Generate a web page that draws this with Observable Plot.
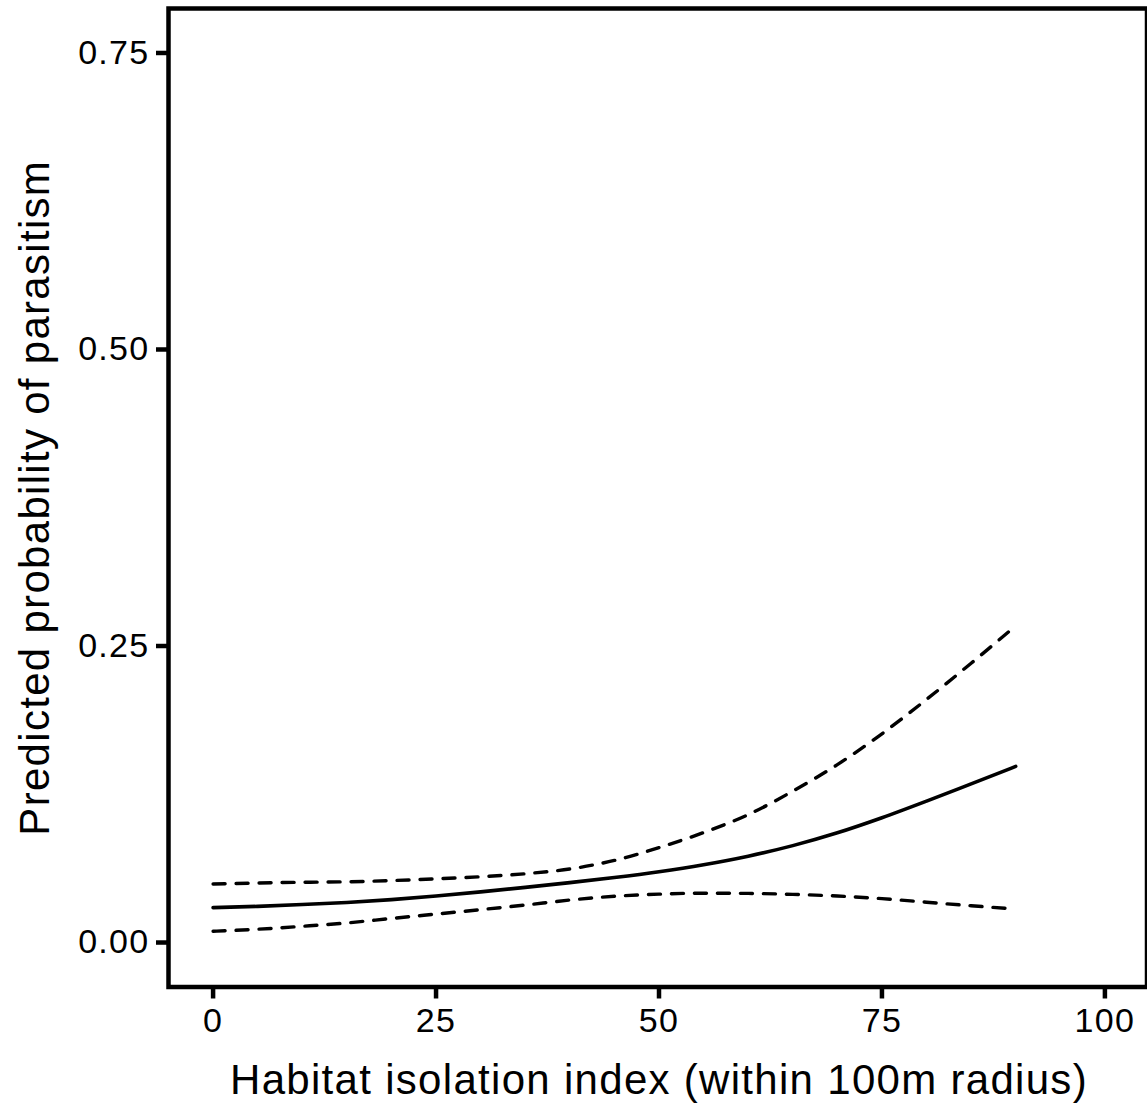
<!DOCTYPE html>
<html>
<head>
<meta charset="utf-8">
<script src="https://cdn.jsdelivr.net/npm/d3@7"></script>
<script src="https://cdn.jsdelivr.net/npm/@observablehq/plot@0.6"></script>
<style>
  html, body { margin: 0; padding: 0; background: #fff; }
  #chart svg { display: block; }
</style>
</head>
<body>
<div id="chart"></div>
<script>
const isolation = [0, 5, 10, 15, 20, 25, 30, 35, 40, 45, 50, 55, 60, 65, 70, 75, 80, 85, 90];
const fitted = [0.0294, 0.0305, 0.0320, 0.0338, 0.0362, 0.0392, 0.0427, 0.0465, 0.0505, 0.0548, 0.0597, 0.0656, 0.0728, 0.0817, 0.0925, 0.1052, 0.1192, 0.1338, 0.1485];
const upperCI = [0.0493, 0.0502, 0.0508, 0.0512, 0.0522, 0.0537, 0.0555, 0.0580, 0.0620, 0.0692, 0.0800, 0.0927, 0.1078, 0.1276, 0.1500, 0.1760, 0.2050, 0.2355, 0.2670];
const lowerCI = [0.0095, 0.0112, 0.0137, 0.0165, 0.0203, 0.0240, 0.0277, 0.0316, 0.0358, 0.0390, 0.0408, 0.0416, 0.0414, 0.0406, 0.0392, 0.0370, 0.0340, 0.0310, 0.0283];
const xTicks = [0, 25, 50, 75, 100];
const yTicks = [0, 0.25, 0.5, 0.75];
const xTitle = "Habitat isolation index (within 100m radius)";
const yTitle = "Predicted probability of parasitism";

const rows = isolation.map((x, i) => ({x, fit: fitted[i], upper: upperCI[i], lower: lowerCI[i]}));

const font = "'Liberation Sans', Arial, Helvetica, sans-serif";

const chart = Plot.plot({
  width: 1147,
  height: 1110,
  marginLeft: 168,
  marginRight: -2,
  marginTop: 8,
  marginBottom: 123.5,
  style: {fontFamily: font, color: "#000", background: "#fff", letterSpacing: "1.3px"},
  x: {domain: [-5, 105], range: [168, 1149]},
  y: {domain: [-0.0375, 0.7875]},
  marks: [
    Plot.line(rows, {x: "x", y: "upper", stroke: "#000", strokeWidth: 3.4, strokeDasharray: "12,11", curve: "monotone-x"}),
    Plot.line(rows, {x: "x", y: "lower", stroke: "#000", strokeWidth: 3.4, strokeDasharray: "12,11", curve: "monotone-x"}),
    Plot.line(rows, {x: "x", y: "fit", stroke: "#000", strokeWidth: 3.6, curve: "monotone-x"}),
    Plot.frame({stroke: "#000", strokeWidth: 4.5, insetRight: 2.5}),
    Plot.axisX({ticks: xTicks, tickSize: 12, tickPadding: 9, strokeWidth: 4.5, fontSize: 34, label: null, tickFormat: d => String(d), fill: "#000"}),
    Plot.axisY({ticks: yTicks, tickSize: 12, tickPadding: 7, strokeWidth: 4.5, fontSize: 34, label: null, tickFormat: d3.format(".2f"), fill: "#000"}),
    Plot.text([xTitle], {frameAnchor: "bottom", text: d => d, dy: 106.5, lineAnchor: "bottom", textAnchor: "middle", fontSize: 42, fill: "#000"}),
    Plot.text([yTitle], {frameAnchor: "left", text: d => d, dx: -120, rotate: -90, lineAnchor: "bottom", textAnchor: "middle", fontSize: 42, fill: "#000"})
  ]
});

document.getElementById("chart").appendChild(chart);
</script>
</body>
</html>
